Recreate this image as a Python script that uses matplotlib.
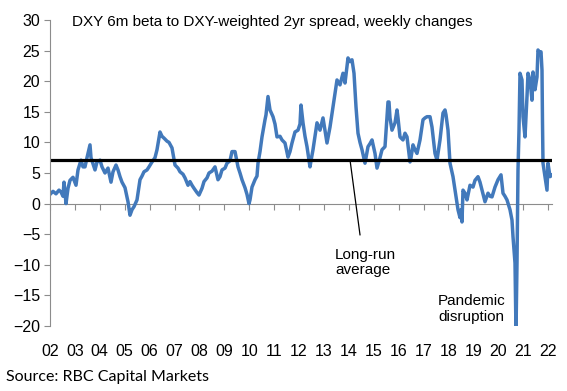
import matplotlib
matplotlib.use("Agg")
import matplotlib.pyplot as plt
import numpy as np

# x positions in pixels -> converted to decimal years below
px = [50, 53, 56, 59, 61, 63, 64, 66, 68, 70, 73, 76, 78, 81, 83, 85, 87, 90, 91, 93,
      95, 97, 100, 102, 105, 108, 111, 113, 116, 118, 120, 122, 125, 128, 130, 132, 134, 137, 140, 142,
      144, 147, 149, 152, 155, 157, 160, 162, 164, 167, 169, 172, 175, 178, 180, 183, 185, 188, 190, 192,
      194, 197, 199, 202, 204, 207, 209, 212, 215, 218, 220, 222, 225, 227, 230, 232, 235, 238, 240, 242,
      245, 247, 249, 250, 252, 255, 257, 258, 260, 262, 265, 266, 268, 270, 273, 275, 277, 280, 282, 285,
      288, 290, 292, 295, 298, 300, 301, 303, 305, 307, 310, 311, 313, 315, 317, 320, 323, 325, 327, 330,
      333, 335, 337, 340, 343, 345, 347, 348, 350, 352, 354, 356, 358, 360, 362, 365, 366, 368, 370, 372,
      375, 377, 380, 382, 385, 388, 389, 390, 392, 395, 397, 398, 400, 403, 405, 407, 410, 411, 413, 415,
      417, 420, 423, 425, 427, 430, 432, 435, 437, 440, 443, 445, 446, 448, 450, 453, 456, 458, 460, 461,
      462, 463, 465, 467, 470, 473, 475, 478, 480, 482, 485, 488, 490, 492, 495, 498, 501, 503, 505, 507,
      510, 512, 513, 515, 516, 517, 518, 519, 520, 522, 523, 525, 527, 528, 530, 532, 533, 535, 537, 538,
      540, 541, 542, 542.5, 543, 545, 547, 548, 550, 551.5]
beta = [1.5, 2.0, 1.6, 2.2, 1.9, 1.2, 3.5, 0.0, 2.5, 3.8, 4.3, 3.0, 5.5, 7.1, 6.0, 6.0, 7.5, 9.6, 7.5, 6.5,
        5.5, 6.8, 7.1, 6.0, 5.0, 5.8, 3.5, 5.2, 6.3, 5.5, 4.4, 3.5, 2.6, 0.3, -1.9, -1.0, -0.5, 0.6, 3.9, 4.5,
        5.2, 5.5, 6.0, 6.8, 7.5, 8.8, 11.7, 11.0, 10.7, 10.2, 10.0, 9.1, 6.3, 5.8, 5.2, 4.8, 4.2, 3.0, 3.6, 3.0,
        2.5, 1.8, 1.4, 2.5, 3.6, 4.2, 5.0, 5.3, 6.0, 3.9, 4.4, 5.5, 5.8, 6.6, 7.0, 8.5, 8.5, 6.0, 5.0, 3.9,
        2.6, 1.5, 0.0, 0.6, 2.7, 3.9, 4.5, 6.6, 8.5, 10.9, 13.7, 14.5, 17.5, 15.3, 14.2, 13.0, 10.9, 11.0, 10.4, 9.9,
        7.6, 8.5, 9.9, 11.7, 12.0, 13.0, 16.1, 13.2, 11.0, 9.3, 6.0, 7.0, 8.8, 11.0, 13.2, 12.0, 14.0, 12.0, 9.9, 12.5,
        15.8, 18.0, 20.2, 19.4, 21.3, 19.7, 22.5, 23.8, 23.2, 23.5, 21.3, 15.8, 11.5, 10.0, 8.8, 6.6, 7.5, 9.3, 9.8, 10.4,
        8.2, 5.8, 7.5, 8.8, 9.3, 16.6, 16.6, 14.0, 12.0, 13.2, 15.3, 14.0, 10.9, 10.4, 11.5, 10.9, 6.8, 7.5, 9.6, 8.8,
        8.2, 10.4, 13.7, 14.0, 14.2, 14.2, 12.5, 8.2, 7.1, 10.4, 14.8, 15.3, 14.5, 12.0, 6.6, 4.4, 1.1, -1.0, -2.3, -1.0,
        -3.0, 2.2, 1.7, 0.6, 3.0, 2.7, 3.8, 4.4, 3.5, 2.2, 0.3, 1.7, 1.2, 1.1, 2.7, 3.9, 4.7, 1.7, 1.2, 0.6,
        -1.0, -2.7, -5.4, -9.7, -21.0, -9.7, 5.5, 12.0, 21.3, 20.2, 14.2, 10.9, 17.5, 21.3, 20.2, 16.9, 21.5, 18.6, 20.7, 25.1,
        24.6, 24.8, 21.8, 13.2, 6.6, 4.4, 2.2, 6.6, 4.4, 4.6]
years = [2002 + (p - 50) / 24.9 for p in px]

long_run_avg = 7.1
year_ticks = list(range(2002, 2023))
year_labels = [f"{y % 100:02d}" for y in year_ticks]
title = "DXY 6m beta to DXY-weighted 2yr spread, weekly changes"
source = "Source: RBC Capital Markets"

plt.rcParams["font.family"] = ["Liberation Sans", "DejaVu Sans"]

fig = plt.figure(figsize=(5.67, 3.91), dpi=100)
ax = fig.add_axes([50 / 567, 1 - 326 / 391, (552 - 50) / 567, (326 - 20) / 391])

x_end = 2002 + (552 - 50) / 24.9
ax.set_xlim(2002, x_end)
ax.set_ylim(-20, 30)

ax.plot(years, beta, color="#4279BB", lw=2.5, solid_joinstyle="round")
ax.plot([2002, x_end], [long_run_avg, long_run_avg], color="black", lw=2.3)

# pointer to the average line
ax.plot([2014.05, 2014.45], [long_run_avg, -5.1], color="black", lw=0.9)
ax.text(2013.45, -9.6, "Long-run\naverage", fontsize=11, ha="left", va="center", linespacing=1.15)
ax.text(2017.58, -17.2, "Pandemic\ndisruption", fontsize=11, ha="left", va="center", linespacing=1.15)

for s in ["top", "right", "bottom"]:
    ax.spines[s].set_visible(False)
ax.spines["left"].set_color("#8c8c8c")
ax.set_yticks(range(-20, 31, 5))
ax.tick_params(axis="y", colors="#8c8c8c", length=4, labelsize=11.5, labelcolor="black", pad=3)
ax.set_xticks(year_ticks)
ax.set_xticklabels(year_labels)
ax.tick_params(axis="x", length=0, labelsize=11.5, pad=13)

# zero line with the year ticks hanging below it
zero = ax.secondary_xaxis(20 / 50)
zero.set_xticks(year_ticks)
zero.set_xticklabels([])
zero.spines["bottom"].set_color("#8c8c8c")
zero.tick_params(axis="x", colors="#8c8c8c", length=4, direction="out")

fig.text(72 / 567, 1 - 22 / 391, title, fontsize=11, va="center", ha="left")
fig.text(6 / 567, 1 - 377 / 391, source, fontsize=11.5, va="center", ha="left", family=["Lato", "DejaVu Sans"])

fig.savefig("out.png", dpi=100)
